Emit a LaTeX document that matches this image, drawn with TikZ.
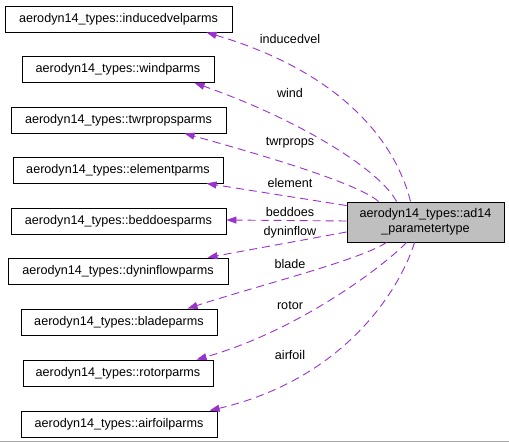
\documentclass[tikz,border=0pt]{standalone}
\usepackage{fontspec}
\setmainfont{Liberation Sans}
\usetikzlibrary{arrows.meta}
\definecolor{edgepurple}{HTML}{9A32CD}
\definecolor{mainfill}{HTML}{BFBFBF}
\definecolor{rulegrey}{HTML}{A8A8A8}
\begin{document}
\begin{tikzpicture}[x=1pt,y=-1pt,
  every node/.style={font=\fontsize{12.6pt}{15pt}\selectfont, inner sep=0pt},
  parmbox/.style={draw=black, line width=0.9pt, minimum height=26pt, fill=white},
  mainbox/.style={draw=black, line width=0.9pt, fill=mainfill, minimum width=157pt, minimum height=40pt, align=center},
  usage/.style={draw=edgepurple, line width=0.9pt, dash pattern=on 8pt off 5pt,
    -{Triangle[length=10pt,width=7pt,fill=edgepurple]}},
  elabel/.style={fill=none}
]
\useasboundingbox (0,0) rectangle (509,443);
\fill[white] (0,0) rectangle (509,443);
\draw[rulegrey, line width=1.5pt] (0,441.5) -- (509,441.5);

\node[parmbox, minimum width=227pt] (induced) at (118.5,19) {aerodyn14\_types::inducedvelparms};
\node[parmbox, minimum width=192pt] (wind) at (118,69.5) {aerodyn14\_types::windparms};
\node[parmbox, minimum width=215pt] (twr) at (118.5,120) {aerodyn14\_types::twrpropsparms};
\node[parmbox, minimum width=210pt] (element) at (118,170) {aerodyn14\_types::elementparms};
\node[parmbox, minimum width=215pt] (beddoes) at (118.5,221) {aerodyn14\_types::beddoesparms};
\node[parmbox, minimum width=220pt] (dyn) at (118,271) {aerodyn14\_types::dyninflowparms};
\node[parmbox, minimum width=196pt] (blade) at (119,322) {aerodyn14\_types::bladeparms};
\node[parmbox, minimum width=190pt] (rotor) at (118,373) {aerodyn14\_types::rotorparms};
\node[parmbox, minimum width=196pt] (airfoil) at (119,424) {aerodyn14\_types::airfoilparms};

\node[mainbox] (main) at (425.5,222) {aerodyn14\_types::ad14\\\_parametertype};

% edges
\draw[usage] ([xshift=64pt]main.north west) .. controls (395,140) and (340,72) .. ([xshift=202pt]induced.south west);
\draw[usage] ([xshift=50pt]main.north west) .. controls (380,170) and (300,120) .. ([xshift=173pt]wind.south west);
\draw[usage] ([xshift=32pt]main.north west) .. controls (360,185) and (280,160) .. ([xshift=174pt]twr.south west);
\draw[usage] ([yshift=-4pt]main.north west) -- ([xshift=194pt]element.south west);
\draw[usage] ([yshift=1pt]main.west) -- ([yshift=1pt]beddoes.east);
\draw[usage] ([yshift=-10pt]main.west) -- ([xshift=200pt]dyn.north west);
\draw[usage] ([xshift=40pt]main.south west) .. controls (360,260) and (260,285) .. ([xshift=167pt]blade.north west);
\draw[usage] ([xshift=60pt]main.south west) .. controls (385,265) and (300,330) .. ([xshift=174pt]rotor.north west);
\draw[usage] ([xshift=68pt]main.south west) .. controls (398,295) and (340,380) .. ([xshift=189pt]airfoil.north west);

% labels
\node[elabel] (l1) at (290,39) {inducedvel};
\node[elabel] (l2) at (290,93) {wind};
\node[elabel] (l3) at (290,143) {twrprops};
\node[elabel] (l4) at (290,183) {element};
\node[elabel] (l5) at (290,212) {beddoes};
\node[elabel] (l6) at (290,232) {dyninflow};
\node[elabel] (l7) at (290,264) {blade};
\node[elabel] (l8) at (290,305) {rotor};
\node[elabel] (l9) at (290,355) {airfoil};
\end{tikzpicture}
\end{document}
